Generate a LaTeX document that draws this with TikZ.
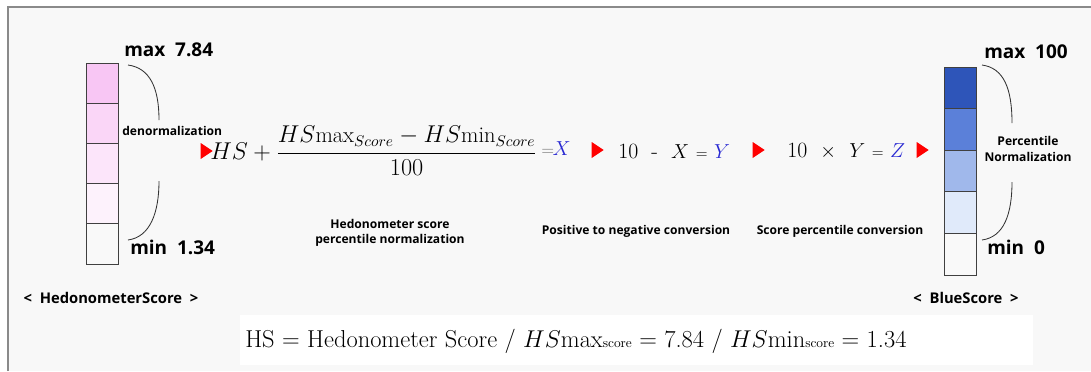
\documentclass[tikz,border=0pt]{standalone}
\usepackage{amsmath}
\usepackage{fontspec}
\setsansfont{Open Sans}
\usetikzlibrary{shapes.geometric}

\definecolor{pink1}{HTML}{F8C6F4}
\definecolor{pink2}{HTML}{FAD6F7}
\definecolor{pink3}{HTML}{FCE5FA}
\definecolor{pink4}{HTML}{FDF2FC}
\definecolor{pale}{HTML}{F9F9F9}
\definecolor{blue1}{HTML}{2E55B9}
\definecolor{blue2}{HTML}{5B80D9}
\definecolor{blue3}{HTML}{A0B8EB}
\definecolor{blue4}{HTML}{E0EAFA}
\definecolor{bggray}{HTML}{F8F8F8}
\definecolor{framegray}{HTML}{8A8A8A}
\definecolor{varblue}{RGB}{40,40,210}

\begin{document}
\begin{tikzpicture}[x=0.025cm, y=-0.025cm,
  cell/.style={draw=black!75, line width=0.6pt, minimum width=0.8cm, inner sep=0pt},
  note/.style={font=\sffamily\bfseries\fontsize{8.6}{11}\selectfont, align=center, inner sep=0pt},
  ends/.style={font=\sffamily\bfseries\fontsize{13.5}{16}\selectfont, anchor=west, inner sep=0pt},
  caption/.style={font=\sffamily\bfseries\fontsize{10.5}{12}\selectfont, inner sep=0pt},
  calc/.style={font=\fontsize{15.5}{18}\selectfont, anchor=west, inner sep=0pt},
  pointer/.style={isosceles triangle, isosceles triangle stretches, fill=red,
    inner sep=0pt, minimum height=0.3cm, minimum width=0.4cm},
  brace/.style={black!80, line width=0.6pt}]
  % --- background and frame ---
  \useasboundingbox (0,0) rectangle (1091,371);
  \fill[bggray] (8,7) rectangle (1091,371);
  \draw[framegray, line width=1pt] (8,371) -- (8,7) -- (1091,7);

  % --- left bar: HedonometerScore ---
  \foreach \i/\c in {1/pink1, 2/pink2, 3/pink3, 4/pink4, 5/pale}
    \node[cell, fill=\c, minimum height=1.005cm] (l\i) at (102,{63+40.2*(\i-0.5)}) {};
  \node[ends] (lmax) at (124,50) {max\ \ 7.84};
  \node[ends] (lmin) at (130,247) {min\ \ 1.34};
  \node[note, anchor=west] (denorm) at (122,131) {denormalization};
  \coordinate (lbtop) at (128,65);
  \coordinate (lbup) at (159,120);
  \coordinate (lblow) at (159,181);
  \coordinate (lbbot) at (128,240);
  \draw[brace] (lbtop) .. controls +(22,3) and +(0,-32) .. (lbup);
  \draw[brace] (lblow) .. controls +(0,32) and +(22,-3) .. (lbbot);
  \node[caption] (hcap) at (111,298) {<\ \ HedonometerScore\ \ >};

  % --- formula chain ---
  \node[pointer] (p0) at (205,151) {};
  \node[inner sep=0pt, anchor=west, font=\fontsize{17}{20}\selectfont] (hsfrac) at (210,151)
    {$HS+\dfrac{\mbox{\fontsize{16}{18}\selectfont$HS\mathrm{max}_{Score}-HS\mathrm{min}_{Score}$}}{100}$};
  \node[calc] (eqx) at (541,149) {\textcolor{black!55}{\fontsize{13}{14}\selectfont$=$}\kern-1pt\textcolor{varblue}{$X$}};
  \node[pointer] (p1) at (596,150) {};
  \node[calc] (step1) at (618,151) {10\ \ -\ \ $X$\ {\fontsize{11}{12}\selectfont=}\ \textcolor{varblue}{$Y$}};
  \node[pointer] (p2) at (757,150) {};
  \node[calc] (step2) at (787,151) {10\ \ $\times$\ \ $Y$\ {\fontsize{11}{12}\selectfont=}\ \textcolor{varblue}{$Z$}};
  \node[pointer] (p3) at (921,150) {};

  \node[note] (hpn) at (390,233) {Hedonometer score\\percentile normalization};
  \node[note] (ptn) at (636,231) {Positive to negative conversion};
  \node[note] (spc) at (840,231) {Score percentile conversion};

  % --- right bar: BlueScore ---
  \foreach \i/\c in {1/blue1, 2/blue2, 3/blue3, 4/blue4, 5/pale}
    \node[cell, fill=\c, minimum height=1.04cm] (r\i) at (960,{67+41.6*(\i-0.5)}) {};
  \node[ends] (rmax) at (984,52) {max\ \ 100};
  \node[ends] (rmin) at (987,247) {min\ \ 0};
  \node[note] (pnorm) at (1028,149) {Percentile\\Normalization};
  \coordinate (rbtop) at (982,65);
  \coordinate (rbup) at (1012,123);
  \coordinate (rblow) at (1012,182);
  \coordinate (rbbot) at (982,240);
  \draw[brace] (rbtop) .. controls +(22,3) and +(0,-34) .. (rbup);
  \draw[brace] (rblow) .. controls +(0,32) and +(22,-3) .. (rbbot);
  \node[caption] (bcap) at (966,298) {<\ \ BlueScore\ \ >};

  % --- definitions ---
  \node[fill=white, minimum width=19.825cm, minimum height=1.25cm, inner sep=0pt] (defbox) at (636.5,340) {};
  \node[anchor=west, inner sep=0pt, font=\fontsize{17.4}{20}\selectfont] (defs) at (245,341)
    {HS = Hedonometer Score / $HS$max{\fontsize{9.5}{10}\selectfont score} = 7.84 / $HS$min{\fontsize{9.5}{10}\selectfont score} = 1.34};
\end{tikzpicture}
\end{document}
